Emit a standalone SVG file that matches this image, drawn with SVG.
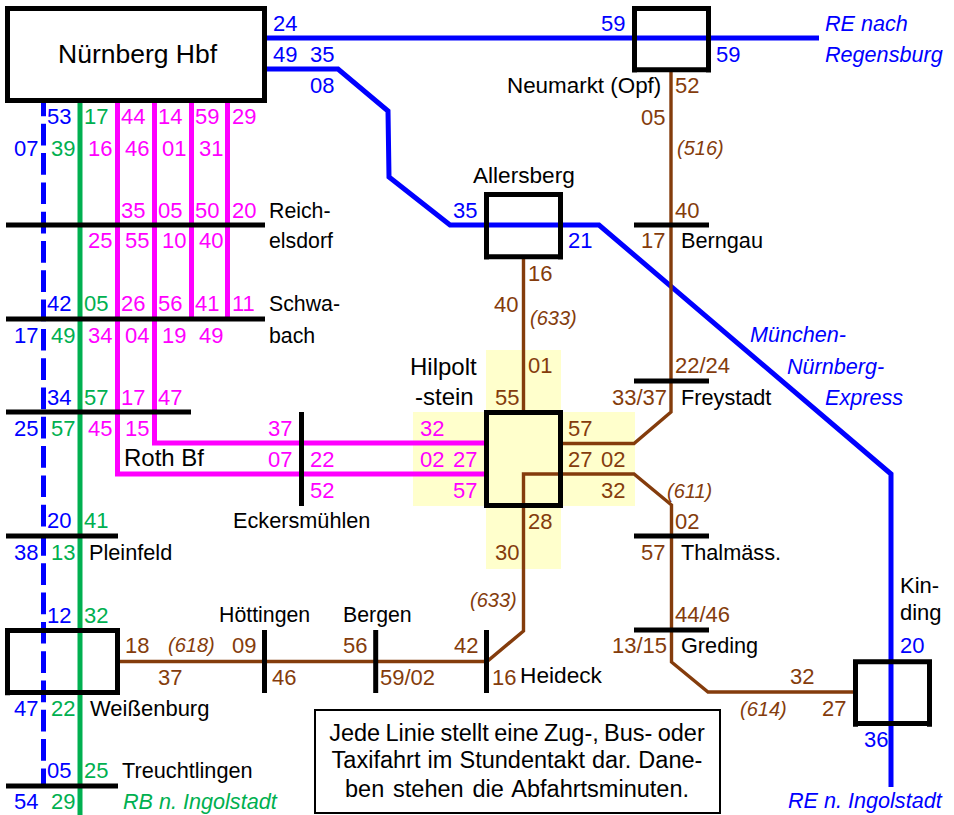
<svg xmlns="http://www.w3.org/2000/svg" width="954" height="815" viewBox="0 0 954 815">
<style>
text{font-family:"Liberation Sans",Arial,sans-serif;font-size:22px;fill:#000}
.b{fill:#0000ff}.g{fill:#00b050}.m{fill:#ff00ff}.r{fill:#843c0c}
.i{font-style:italic;font-size:21.6px}
.c{font-size:20px}
.t{font-size:21.7px}
.s{font-size:21.3px}
.u{font-size:24px}
.n{text-anchor:middle;font-size:23.5px}
.l{fill:none;stroke-linejoin:miter}
.lb{stroke:#0000ff;stroke-width:5}
.lg{stroke:#00b050;stroke-width:5}
.lm{stroke:#ff00ff;stroke-width:5}
.lr{stroke:#843c0c;stroke-width:3.4}
.bar{fill:none;stroke:#000;stroke-width:5}
.box{fill:none;stroke:#000;stroke-width:5}
.y{fill:#ffffcc;stroke:none}
</style>
<rect width="954" height="815" fill="#fff"/>
<g id="hilpoltstein-bg">
<rect class="y" x="486" y="350" width="75" height="219"/>
<rect class="y" x="413" y="412" width="222" height="94"/>
</g>
<g id="connectors">
<path class="l lb" d="M267 38H819"/>
<path class="l lb" d="M267 69H338L388 111L389 177L450 225H599L891 474V787"/>
<path class="l lb" d="M43.500 103V787" stroke-dasharray="21.700 7.600" stroke-dashoffset="8.500"/>
<path class="l lg" d="M80 103V815"/>
<path class="l lm" d="M117.500 103V474H486"/>
<path class="l lm" d="M154.500 103V443H486"/>
<path class="l lm" d="M191.500 103V319"/>
<path class="l lm" d="M227.500 103V319"/>
<path class="l lr" d="M671 72V412L634 443.500H562"/>
<path class="l lr" d="M854 692H708L671.500 662V505L634 474H523.500V631L487 661.500H120"/>
<path class="l lr" d="M523.500 259V412"/>
</g>
<g id="nuernberg-hbf">
<rect x="7.500" y="8.500" width="257" height="92" fill="#fff" stroke="#000" stroke-width="5"/>
<text x="58" y="63" style="font-size:26.500px">Nürnberg Hbf</text>
</g>
<g id="neumarkt"><path class="box" d="M632 8.500H711M634.500 6V72.500M708.500 6V72.500M632 69.800H711"/><text x="507" y="93" style="font-size:22.400px">Neumarkt (Opf)</text></g>
<g id="allersberg"><path class="box" d="M484 194.500H563M486.500 192V259.500M560.500 192V259.500M484 256.800H563"/><text x="473" y="183" style="font-size:22.600px">Allersberg</text></g>
<g id="hilpoltstein"><path class="box" d="M484 412.500H563M486.500 410V508M560.500 410V508M484 505.500H563"/><text class="u" x="410" y="375">Hilpolt</text><text class="u" x="415" y="405">-stein</text></g>
<g id="weissenburg"><path class="box" d="M5 630.500H120M7.500 628V695.300M117.500 628V695M5 692.600H120"/><text x="90" y="716">Weißenburg</text></g>
<g id="kinding"><path class="box" d="M853 661.800H932M855.500 659.300V726.800M929.500 659.300V726.800M853 723.500H932"/><text x="900" y="593">Kin-</text><text x="900" y="620">ding</text></g>
<g id="reichelsdorf"><path class="bar" d="M6 225H265"/><text class="s" x="269" y="218">Reich-</text><text class="s" x="269" y="248">elsdorf</text></g>
<g id="schwabach"><path class="bar" d="M6 319H265"/><text class="s" x="269" y="311">Schwa-</text><text class="s" x="269" y="343">bach</text></g>
<g id="roth"><path class="bar" d="M6 412H191"/><text class="u" x="124" y="466">Roth Bf</text></g>
<g id="pleinfeld"><path class="bar" d="M6 536H118"/><text class="t" x="89" y="560">Pleinfeld</text></g>
<g id="treuchtlingen"><path class="bar" d="M6 786H118"/><text class="t" x="122" y="778">Treuchtlingen</text></g>
<g id="eckersmuehlen"><path class="bar" d="M301.500 412V506"/><text class="t" x="233" y="528">Eckersmühlen</text></g>
<g id="hoettingen"><path class="bar" d="M264.500 630V693"/><text class="s" x="219" y="622">Höttingen</text></g>
<g id="bergen"><path class="bar" d="M375.700 630V693"/><text class="s" x="343" y="622">Bergen</text></g>
<g id="heideck"><path class="bar" d="M486.500 630V693"/><text x="520" y="683" style="font-size:22.700px">Heideck</text></g>
<g id="berngau"><path class="bar" d="M634 225H709"/><text class="t" x="681" y="248">Berngau</text></g>
<g id="freystadt"><path class="bar" d="M634 381H709"/><text class="t" x="681" y="405">Freystadt</text></g>
<g id="thalmaess"><path class="bar" d="M634 536H709"/><text class="t" x="681" y="560">Thalmäss.</text></g>
<g id="greding"><path class="bar" d="M634 630H709"/><text class="t" x="681" y="653">Greding</text></g>
<g id="labels-blue">
<text class="b" x="273" y="31">24</text><text class="b" x="273" y="62">49</text><text class="b" x="310" y="62">35</text><text class="b" x="310" y="93">08</text>
<text class="b" x="601" y="31">59</text><text class="b" x="716" y="62">59</text>
<text class="b" x="453" y="218">35</text><text class="b" x="568" y="248">21</text>
<text class="b" x="47" y="124">53</text><text class="b" x="14" y="156">07</text>
<text class="b" x="47" y="311">42</text><text class="b" x="14" y="343">17</text>
<text class="b" x="47" y="405">34</text><text class="b" x="14" y="436">25</text>
<text class="b" x="47" y="528">20</text><text class="b" x="14" y="560">38</text>
<text class="b" x="47" y="623">12</text><text class="b" x="14" y="716">47</text>
<text class="b" x="47" y="778">05</text><text class="b" x="14" y="809">54</text>
<text class="b" x="900" y="653">20</text><text class="b" x="864" y="747">36</text>
<text class="b i" x="825" y="31">RE nach</text><text class="b i" x="825" y="62">Regensburg</text>
<text class="b i" x="750" y="342">München-</text><text class="b i" x="787" y="374">Nürnberg-</text><text class="b i" x="825" y="405">Express</text>
<text class="b i" x="788" y="808">RE n. Ingolstadt</text>
</g>
<g id="labels-green">
<text class="g" x="84" y="124">17</text><text class="g" x="51" y="156">39</text>
<text class="g" x="84" y="311">05</text><text class="g" x="51" y="343">49</text>
<text class="g" x="84" y="405">57</text><text class="g" x="51" y="436">57</text>
<text class="g" x="84" y="528">41</text><text class="g" x="51" y="560">13</text>
<text class="g" x="84" y="623">32</text><text class="g" x="51" y="716">22</text>
<text class="g" x="84" y="778">25</text><text class="g" x="51" y="809">29</text>
<text class="g i" x="123" y="809">RB n. Ingolstadt</text>
</g>
<g id="labels-magenta">
<text class="m" x="121" y="124">44</text><text class="m" x="158" y="124">14</text><text class="m" x="195" y="124">59</text><text class="m" x="232" y="124">29</text>
<text class="m" x="88" y="156">16</text><text class="m" x="125" y="156">46</text><text class="m" x="162" y="156">01</text><text class="m" x="199" y="156">31</text>
<text class="m" x="121" y="218">35</text><text class="m" x="158" y="218">05</text><text class="m" x="195" y="218">50</text><text class="m" x="232" y="218">20</text>
<text class="m" x="88" y="248">25</text><text class="m" x="125" y="248">55</text><text class="m" x="162" y="248">10</text><text class="m" x="199" y="248">40</text>
<text class="m" x="121" y="311">26</text><text class="m" x="158" y="311">56</text><text class="m" x="195" y="311">41</text><text class="m" x="232" y="311">11</text>
<text class="m" x="88" y="343">34</text><text class="m" x="125" y="343">04</text><text class="m" x="162" y="343">19</text><text class="m" x="199" y="343">49</text>
<text class="m" x="121" y="405">17</text><text class="m" x="158" y="405">47</text>
<text class="m" x="88" y="436">45</text><text class="m" x="125" y="436">15</text>
<text class="m" x="268" y="436">37</text><text class="m" x="268" y="467">07</text><text class="m" x="310" y="467">22</text><text class="m" x="310" y="498">52</text>
<text class="m" x="420" y="436">32</text><text class="m" x="420" y="467">02</text><text class="m" x="453" y="467">27</text><text class="m" x="453" y="498">57</text>
</g>
<g id="labels-brown">
<text class="r" x="675" y="93">52</text><text class="r" x="641" y="125">05</text><text class="r i c" x="677" y="155">(516)</text>
<text class="r" x="675" y="218">40</text><text class="r" x="641" y="248">17</text>
<text class="r" x="675" y="373">22/24</text><text class="r" x="612" y="405">33/37</text>
<text class="r" x="528" y="281">16</text><text class="r" x="494" y="312">40</text><text class="r i c" x="530" y="325">(633)</text>
<text class="r" x="528" y="373">01</text><text class="r" x="495" y="405">55</text>
<text class="r" x="568" y="436">57</text><text class="r" x="568" y="467">27</text><text class="r" x="601" y="467">02</text><text class="r" x="601" y="498">32</text>
<text class="r i c" x="667" y="498">(611)</text><text class="r" x="675" y="529">02</text><text class="r" x="641" y="560">57</text>
<text class="r" x="528" y="529">28</text><text class="r" x="495" y="560">30</text><text class="r i c" x="470" y="607">(633)</text>
<text class="r" x="675" y="622">44/46</text><text class="r" x="612" y="653">13/15</text>
<text class="r" x="790" y="684">32</text><text class="r i c" x="740" y="716">(614)</text><text class="r" x="822" y="716">27</text>
<text class="r" x="125" y="653">18</text><text class="r i c" x="168" y="652">(618)</text><text class="r" x="232" y="653">09</text><text class="r" x="158" y="685">37</text>
<text class="r" x="272" y="685">46</text><text class="r" x="343" y="653">56</text><text class="r" x="380" y="685">59/02</text>
<text class="r" x="454" y="653">42</text><text class="r" x="492" y="685">16</text>
</g>
<g id="note">
<rect x="315" y="710" width="405" height="103" fill="#fff" stroke="#000" stroke-width="2"/>
<text class="n" x="517" y="741" style="word-spacing:-1.200px">Jede Linie stellt eine Zug-, Bus- oder</text>
<text class="n" x="517" y="768" style="word-spacing:0.600px">Taxifahrt im Stundentakt dar. Dane-</text>
<text class="n" x="517" y="797" style="word-spacing:2.300px">ben stehen die Abfahrtsminuten.</text>
</g>
</svg>
